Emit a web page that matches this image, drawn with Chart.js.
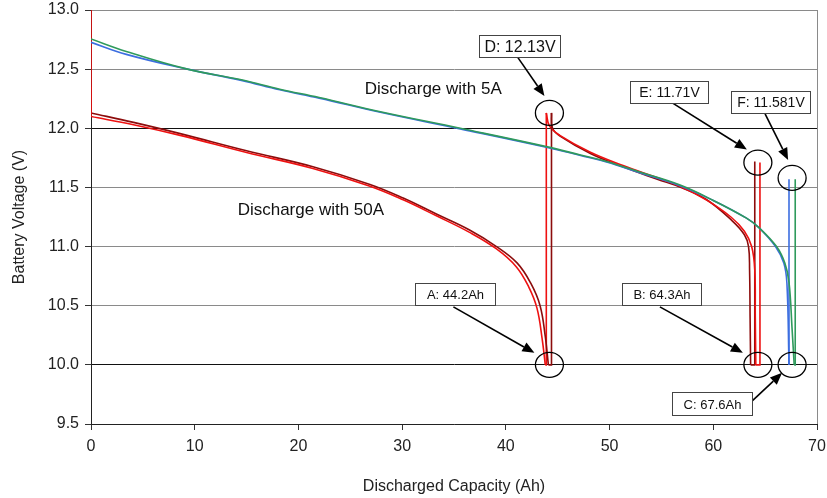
<!DOCTYPE html>
<html>
<head>
<meta charset="utf-8">
<script src="https://cdn.jsdelivr.net/npm/chart.js@4.4.1/dist/chart.umd.min.js"></script>
<style>
  html, body { margin: 0; padding: 0; background: #fff; }
  #wrap { width: 827px; height: 498px; }
</style>
</head>
<body>
<div id="wrap"><canvas id="chart" width="827" height="498"></canvas></div>
<script>
// axes
const capacityTicks = [0, 10, 20, 30, 40, 50, 60, 70];
const voltageTicks = [9.5, 10.0, 10.5, 11.0, 11.5, 12.0, 12.5, 13.0];

// 5 A discharge runs, [Ah, V]
const blue5A = [[0, 12.727], [3.4, 12.625], [9.3, 12.5], [14.5, 12.405], [18.2, 12.325], [22, 12.255],
  [27.9, 12.135], [35.6, 11.995], [43.9, 11.84], [47.2, 11.77], [49.7, 11.715], [52.9, 11.625],
  [56.8, 11.515], [60, 11.39], [63.2, 11.24], [64.4, 11.16], [66.0, 11.0], [66.8, 10.86],
  [67.1, 10.69], [67.3, 10.0]];
const green5A = [[0, 12.755], [3.4, 12.65], [9.3, 12.5], [14.5, 12.41], [18.2, 12.33], [22, 12.26],
  [27.9, 12.14], [35.6, 12.0], [43.9, 11.845], [47.2, 11.774], [49.7, 11.72], [52.9, 11.63],
  [56.8, 11.52], [60, 11.39], [63.2, 11.24], [64.4, 11.16], [66.1, 11.0], [66.9, 10.86],
  [67.3, 10.7], [67.6, 10.3], [67.8, 10.0]];
const blueRest = [[67.3, 10.0], [67.3, 11.57]];
const greenRest = [[67.8, 10.0], [67.9, 10.0], [67.9, 11.57]];

// 50 A discharge followed by 5 A discharge (two red runs)
const redStart = [[0, 13.0], [0, 12.10]];
const darkStart = [[0, 12.35], [0, 12.13]];
const red50A = [[0, 12.10], [4.1, 12.03], [8.6, 11.94], [15, 11.795], [21.4, 11.66], [26.9, 11.51],
  [30.1, 11.395], [33.3, 11.26], [36.5, 11.12], [39.1, 10.98], [41, 10.83], [42.2, 10.66],
  [43, 10.48], [43.5, 10.22], [43.8, 10.0]];
const dark50A = [[0, 12.13], [4.1, 12.05], [8.6, 11.955], [15, 11.81], [21.4, 11.675], [26.9, 11.525],
  [30.1, 11.41], [33.3, 11.275], [36.5, 11.14], [39.1, 11.0], [41.1, 10.86], [42.4, 10.69],
  [43.3, 10.5], [43.8, 10.24], [44.1, 10.0]];
const redRest1 = [[43.8, 10.0], [43.9, 10.0], [43.9, 12.13]];
const darkRest1 = [[44.1, 10.0], [44.4, 10.0], [44.4, 12.13]];
const red5A = [[43.9, 12.13], [44.2, 12.02], [45.2, 11.94], [48.1, 11.80], [51.3, 11.685],
  [54.5, 11.585], [56.8, 11.51], [59.4, 11.39], [61.7, 11.25], [63.0, 11.13], [63.7, 11.0],
  [64.0, 10.8], [64.05, 10.4], [64.1, 10.0]];
const dark5A = [[44.4, 12.13], [44.5, 12.0], [45.3, 11.93], [48.2, 11.785], [51.4, 11.67],
  [54.6, 11.57], [56.9, 11.50], [59.3, 11.40], [61.8, 11.22], [63.0, 11.10], [63.4, 11.0],
  [63.5, 10.8], [63.55, 10.4], [63.6, 10.0]];
const redRest2 = [[64.1, 10.0], [64.5, 10.0], [64.5, 11.71]];
const darkRest2 = [[63.6, 10.0], [64.0, 10.0], [64.0, 11.72]];

// callouts: circled point, label text
const callouts = [
  { text: "D: 12.13V", at: [44.2, 12.13], size: 16, box: [-29.5, -67, 81, 22], from: [-32, -56], to: [-5, -17] },
  { text: "E: 11.71V", at: [64.3, 11.71], size: 14, box: [-89, -71, 78, 22], from: [-86, -60], to: [-11, -13] },
  { text: "F: 11.581V", at: [67.6, 11.58], size: 14, box: [-21.5, -75.5, 79, 22], from: [-27, -64], to: [-4, -18] },
  { text: "A: 44.2Ah", at: [44.2, 10.0], size: 13, box: [-94.4, -71, 80, 22], from: [-96, -58], to: [-15, -12] },
  { text: "B: 64.3Ah", at: [64.3, 10.0], size: 13, box: [-96.4, -70.4, 79, 22], from: [-98, -58], to: [-15, -12] },
  { text: "C: 67.6Ah", at: [67.6, 10.0], size: 13, box: [-80, 38.6, 80, 23], from: [-42, 38], to: [-10, 8] }
];
const notes = [
  { text: "Discharge with 5A", at: [33.0, 12.33] },
  { text: "Discharge with 50A", at: [21.2, 11.31] }
];

const FONT = "'Liberation Sans', Arial, sans-serif";
const RED = "#ee1111";
const DARK = "#8c0c0c";
const BLUE = "#3c6ee0";
const GREEN = "#2f9a5c";

function toXY(arr) {
  return arr.map(([x, y]) => ({ x, y }));
}
function line(label, arr, color, smooth) {
  return {
    label,
    data: toXY(arr),
    borderColor: color,
    borderWidth: 1.6,
    pointRadius: 0,
    showLine: true,
    fill: false,
    tension: smooth ? 0.4 : 0
  };
}
// keep tick labels from pushing the plot area in
function noLabelPadding(s) {
  s.paddingTop = 0;
  s.paddingBottom = 0;
  s.paddingLeft = 0;
  s.paddingRight = 0;
}

const calloutPlugin = {
  id: "callouts",
  afterDatasetsDraw(chart) {
    const { ctx, chartArea, scales } = chart;
    ctx.save();
    // right border of the plot
    ctx.strokeStyle = "#8a8a8a";
    ctx.lineWidth = 1;
    ctx.beginPath();
    ctx.moveTo(chartArea.right + 0.5, chartArea.top);
    ctx.lineTo(chartArea.right + 0.5, chartArea.bottom);
    ctx.stroke();

    ctx.fillStyle = "#111";
    ctx.textAlign = "center";
    ctx.textBaseline = "middle";
    ctx.font = `17px ${FONT}`;
    notes.forEach((n) => {
      ctx.fillText(n.text, scales.x.getPixelForValue(n.at[0]), scales.y.getPixelForValue(n.at[1]));
    });

    callouts.forEach((c) => {
      const cx = scales.x.getPixelForValue(c.at[0]);
      const cy = scales.y.getPixelForValue(c.at[1]);
      ctx.strokeStyle = "#000";
      ctx.lineWidth = 1.3;
      ctx.beginPath();
      ctx.ellipse(cx, cy, 14, 12.5, 0, 0, Math.PI * 2);
      ctx.stroke();

      // arrow
      const x1 = cx + c.from[0], y1 = cy + c.from[1];
      const x2 = cx + c.to[0], y2 = cy + c.to[1];
      const a = Math.atan2(y2 - y1, x2 - x1);
      const hl = 12, hw = 5;
      ctx.lineWidth = 1.6;
      ctx.beginPath();
      ctx.moveTo(x1, y1);
      ctx.lineTo(x2 - hl * Math.cos(a), y2 - hl * Math.sin(a));
      ctx.stroke();
      ctx.fillStyle = "#000";
      ctx.beginPath();
      ctx.moveTo(x2, y2);
      ctx.lineTo(x2 - hl * Math.cos(a) + hw * Math.sin(a), y2 - hl * Math.sin(a) - hw * Math.cos(a));
      ctx.lineTo(x2 - hl * Math.cos(a) - hw * Math.sin(a), y2 - hl * Math.sin(a) + hw * Math.cos(a));
      ctx.closePath();
      ctx.fill();

      // label box
      const [bx, by, bw, bh] = c.box;
      const left = Math.round(cx + bx - bw / 2) + 0.5;
      const top = Math.round(cy + by - bh / 2) + 0.5;
      ctx.fillStyle = "#fff";
      ctx.fillRect(left, top, bw, bh);
      ctx.strokeStyle = "#444";
      ctx.lineWidth = 1;
      ctx.strokeRect(left, top, bw, bh);
      ctx.fillStyle = "#111";
      ctx.font = `${c.size}px ${FONT}`;
      ctx.fillText(c.text, left + bw / 2, top + bh / 2 + 1);
    });
    ctx.restore();
  }
};

new Chart(document.getElementById("chart"), {
  type: "scatter",
  data: {
    datasets: [
      line("Green 5A", green5A, GREEN, true),
      line("Blue 5A", blue5A, BLUE, true),
      line("Green rest", greenRest, GREEN, false),
      line("Blue rest", blueRest, BLUE, false),
      line("Red start", redStart, RED, false),
      line("Dark start", darkStart, DARK, false),
      line("Red 50A", red50A, RED, true),
      line("Dark 50A", dark50A, DARK, true),
      line("Red rest 1", redRest1, RED, false),
      line("Dark rest 1", darkRest1, DARK, false),
      line("Red 5A", red5A, RED, true),
      line("Dark 5A", dark5A, DARK, true),
      line("Red rest 2", redRest2, RED, false),
      line("Dark rest 2", darkRest2, DARK, false)
    ]
  },
  options: {
    responsive: false,
    animation: false,
    layout: { padding: { top: 10, right: 10, left: 0, bottom: 0 } },
    plugins: { legend: { display: false }, tooltip: { enabled: false } },
    scales: {
      x: {
        type: "linear",
        min: capacityTicks[0],
        max: capacityTicks[capacityTicks.length - 1],
        afterBuildTicks: (s) => { s.ticks = capacityTicks.map((v) => ({ value: v })); },
        afterFit: (s) => { s.height = 74; noLabelPadding(s); },
        ticks: { font: { family: FONT, size: 16 }, color: "#222", padding: 7 },
        grid: { drawOnChartArea: false, drawTicks: true, tickLength: 6, tickColor: "#333" },
        border: { color: "#222", width: 1 },
        title: {
          display: true,
          text: "Discharged Capacity (Ah)",
          font: { family: FONT, size: 16 },
          color: "#222",
          padding: { top: 4, bottom: 2 }
        }
      },
      y: {
        type: "linear",
        min: voltageTicks[0],
        max: voltageTicks[voltageTicks.length - 1],
        afterBuildTicks: (s) => { s.ticks = voltageTicks.map((v) => ({ value: v })); },
        afterFit: (s) => { s.width = 91; noLabelPadding(s); },
        ticks: {
          font: { family: FONT, size: 16 },
          color: "#222",
          padding: 6,
          callback: (v) => Number(v).toFixed(1)
        },
        grid: {
          tickLength: 6,
          tickColor: "#333",
          lineWidth: 1,
          color: (c) => (c.tick && (c.tick.value === 12 || c.tick.value === 10) ? "#111" : "#8a8a8a")
        },
        border: { color: "#222", width: 1 },
        title: {
          display: true,
          text: "Battery Voltage (V)",
          font: { family: FONT, size: 16 },
          color: "#222",
          padding: { top: 10, bottom: 4 }
        }
      }
    }
  },
  plugins: [calloutPlugin]
});
</script>
</body>
</html>
